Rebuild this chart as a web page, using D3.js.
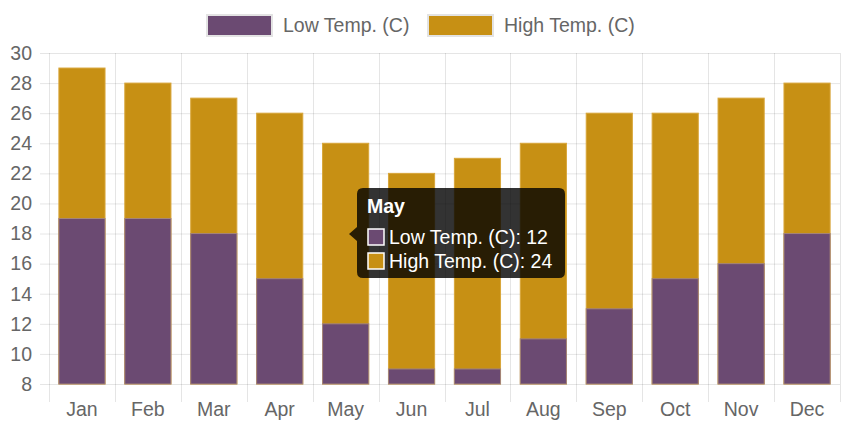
<!DOCTYPE html>
<html><head><meta charset="utf-8">
<script src="https://cdn.jsdelivr.net/npm/d3@7"></script>
<style>
html,body{margin:0;padding:0;background:#fff;}
svg text{font-family:"Liberation Sans",Arial,Helvetica,sans-serif;}
</style></head>
<body><svg id="c" width="861" height="430"></svg>
<script>
const months = ["Jan","Feb","Mar","Apr","May","Jun","Jul","Aug","Sep","Oct","Nov","Dec"];
const lowTemp = [19,19,18,15,12,9,9,11,13,15,16,18];
const highTemp = [29,28,27,26,24,22,23,24,26,26,27,28];
const seriesNames = ["Low Temp. (C)","High Temp. (C)"];
const seriesColors = ["#6b4a72","#c79014"];
const seriesStroke = ["#a58579","#d8a63a"];
const yTicks = [8,10,12,14,16,18,20,22,24,26,28,30];
const tooltipIndex = 4;

const FS = 19.5;
const svg = d3.select("#c");
const L=49,R=840,T=53,B=384;
const x = d3.scaleBand().domain(months).range([L,R]).paddingInner(0).paddingOuter(0);
const y = d3.scaleLinear().domain([8,30]).range([B,T]);
const grid="rgba(0,0,0,0.1)";

// horizontal grid
svg.append("g").selectAll("line").data(yTicks).join("line")
 .attr("x1",L-9).attr("x2",R).attr("y1",d=>y(d)+0.5).attr("y2",d=>y(d)+0.5)
 .attr("stroke",grid).attr("stroke-width",1);
// vertical grid
const bounds = months.map(m=>x(m)).concat([R]);
svg.append("g").selectAll("line").data(bounds).join("line")
 .attr("x1",d=>Math.round(d)+0.5).attr("x2",d=>Math.round(d)+0.5).attr("y1",T).attr("y2",B+18)
 .attr("stroke",grid).attr("stroke-width",1);

// y labels
svg.append("g").selectAll("text").data(yTicks).join("text")
 .attr("x",32).attr("y",d=>y(d)).attr("dy","0.35em").attr("text-anchor","end")
 .attr("fill","#666").attr("font-size",FS).text(d=>d);
// x labels
svg.append("g").selectAll("text").data(months).join("text")
 .attr("x",d=>x(d)+x.bandwidth()/2).attr("y",409).attr("dy","0.35em").attr("text-anchor","middle")
 .attr("fill","#666").attr("font-size",FS).text(d=>d);

const bw = x.bandwidth()*0.7;
function bars(vals, i){
  svg.append("g").selectAll("rect").data(vals).join("rect")
   .attr("x",(d,j)=>x(months[j])+(x.bandwidth()-bw)/2)
   .attr("width",bw)
   .attr("y",d=>y(d))
   .attr("height",d=>y(8)-y(d))
   .attr("fill",seriesColors[i]).attr("stroke",seriesStroke[i]).attr("stroke-width",1);
}
bars(highTemp,1);
bars(lowTemp,0);

// legend
const leg = svg.append("g");
const legX=[207,428];
seriesNames.forEach((n,i)=>{
  leg.append("rect").attr("x",legX[i]).attr("y",15).attr("width",65).attr("height",21)
    .attr("fill",seriesColors[i]).attr("stroke","#e3e3e3").attr("stroke-width",2);
  leg.append("text").attr("x",legX[i]+76).attr("y",25.5).attr("dy","0.35em")
    .attr("fill","#666").attr("font-size",FS).text(n);
});

// tooltip
const tt = svg.append("g");
const tx=357, ty=188, tw=208, th=90;
const cx = tx, cy = 234;
tt.append("path").attr("d",
 `M${tx+6},${ty} H${tx+tw-6} Q${tx+tw},${ty} ${tx+tw},${ty+6} V${ty+th-6} Q${tx+tw},${ty+th} ${tx+tw-6},${ty+th} H${tx+6} Q${tx},${ty+th} ${tx},${ty+th-6} V${cy+7} L${tx-8},${cy} L${tx},${cy-7} V${ty+6} Q${tx},${ty} ${tx+6},${ty} Z`)
 .attr("fill","rgba(0,0,0,0.8)");
tt.append("text").attr("x",367).attr("y",206).attr("dy","0.35em").attr("fill","#fff")
 .attr("font-size",FS).attr("font-weight","bold").text(months[tooltipIndex]);
const vals=[lowTemp[tooltipIndex],highTemp[tooltipIndex]];
seriesNames.forEach((n,i)=>{
  const yy = 237 + i*24;
  tt.append("rect").attr("x",368).attr("y",yy-8).attr("width",16).attr("height",16)
   .attr("fill",seriesColors[i]).attr("stroke","#fff").attr("stroke-width",1.5);
  tt.append("text").attr("x",389).attr("y",yy).attr("dy","0.35em").attr("fill","#fff")
   .attr("font-size",FS).text(n+": "+vals[i]);
});
</script></body></html>
